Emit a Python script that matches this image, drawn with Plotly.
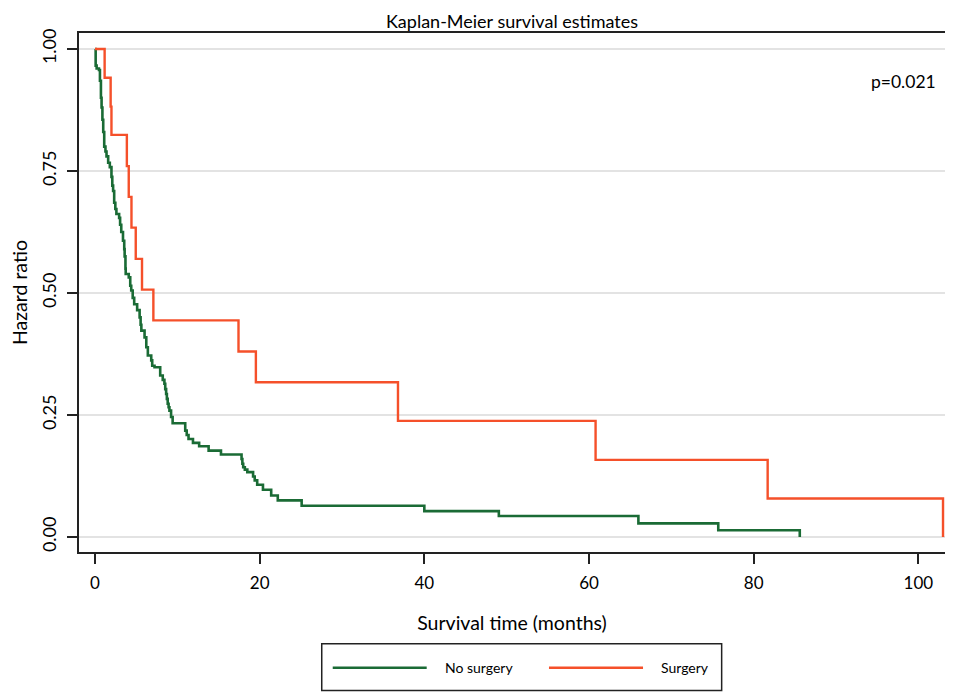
import plotly.graph_objects as go

# ---- data ----
no_surgery_time = [0, 0.08, 0.2, 0.48, 0.6, 0.72, 0.8, 0.9, 1.0, 1.12, 1.27, 1.4, 1.6, 1.8, 2.0, 2.1,
                   2.2, 2.33, 2.47, 2.6, 2.93, 3.05, 3.19, 3.4, 3.55, 3.6, 3.7, 3.73, 4.1, 4.28, 4.4,
                   4.58, 4.76, 5.12, 5.42, 5.54, 5.63, 6.02, 6.23, 6.42, 6.83, 6.95, 7.23, 7.92, 8.23,
                   8.43, 8.53, 8.64, 8.73, 8.83, 8.94, 9.04, 9.24, 9.43, 10.96, 11.14, 11.36, 11.9,
                   12.65, 13.8, 15.3, 17.8, 17.9, 18.0, 18.2, 18.5, 19.2, 19.4, 19.7, 20.4, 21.4, 22.2,
                   25.1, 40.0, 49.05, 66.0, 75.7, 85.6]
no_surgery_surv = [1.0, 0.966, 0.96, 0.957, 0.935, 0.90, 0.88, 0.855, 0.83, 0.80, 0.79, 0.78, 0.767,
                   0.758, 0.738, 0.72, 0.709, 0.685, 0.672, 0.662, 0.654, 0.64, 0.625, 0.607, 0.59,
                   0.575, 0.55, 0.539, 0.532, 0.515, 0.505, 0.49, 0.477, 0.465, 0.45, 0.435, 0.423,
                   0.409, 0.389, 0.372, 0.362, 0.351, 0.348, 0.331, 0.322, 0.314, 0.303, 0.293, 0.283,
                   0.273, 0.266, 0.259, 0.246, 0.233, 0.218, 0.209, 0.201, 0.193, 0.186, 0.177, 0.169,
                   0.160, 0.150, 0.143, 0.138, 0.133, 0.124, 0.116, 0.107, 0.097, 0.085, 0.075, 0.064,
                   0.053, 0.043, 0.028, 0.014, 0.0]

surgery_time = [0, 1.17, 1.9, 2.0, 3.87, 4.1, 4.43, 4.95, 5.71, 7.09, 17.43, 19.54, 36.8, 60.8, 81.7, 103.0]
surgery_surv = [1.0, 0.941, 0.882, 0.824, 0.760, 0.697, 0.634, 0.570, 0.507, 0.444, 0.380, 0.317,
                0.238, 0.158, 0.079, 0.0]

x_ticks = [0, 20, 40, 60, 80, 100]
y_ticks = [0, 0.25, 0.5, 0.75, 1.0]
y_tick_labels = ["0.00", "0.25", "0.50", "0.75", "1.00"]
series_names = ["No surgery", "Surgery"]
p_value_text = "p=0.021"

GREEN = "#1a6b35"
RED = "#f5502a"
FONT = "Lato"

# visible page area is offset by the 8px body margin
W, H = 937, 684

fig = go.Figure()
fig.add_trace(go.Scatter(x=no_surgery_time, y=no_surgery_surv, mode="lines", name=series_names[0],
                         line=dict(color=GREEN, width=2.6, shape="hv"), showlegend=False))
fig.add_trace(go.Scatter(x=surgery_time, y=surgery_surv, mode="lines", name=series_names[1],
                         line=dict(color=RED, width=2.4, shape="hv"), showlegend=False))

fig.update_layout(
    width=W, height=H,
    margin=dict(l=71, r=0, t=25, b=140),
    paper_bgcolor="white", plot_bgcolor="white",
    font=dict(family=FONT, size=16, color="black"),
    title=dict(text="Kaplan-Meier survival estimates", x=0.5, xref="paper", xanchor="center",
               y=1 - 7 / H, yref="container", yanchor="top",
               font=dict(family=FONT, size=18, color="black")),
    xaxis=dict(range=[-1.943, 103.24], tickvals=x_ticks, ticks="outside", ticklen=10, tickwidth=1.5,
               tickcolor="#222", showgrid=False, zeroline=False, showline=True, linecolor="#222",
               linewidth=1.5, mirror=True, ticklabelstandoff=5,
               title=dict(text="Survival time (months)", standoff=24, font=dict(size=19.5)),
               tickfont=dict(size=17)),
    yaxis=dict(range=[-0.0307, 1.0328], tickvals=y_ticks, ticktext=y_tick_labels, ticks="outside",
               ticklen=10, tickwidth=1.5, tickcolor="#222", tickangle=-90, ticklabelstandoff=4,
               showgrid=True, gridcolor="#e3e3e3", gridwidth=2, zeroline=False,
               showline=True, linecolor="#222", linewidth=1.5,
               title=dict(text="Hazard ratio", standoff=6, font=dict(size=19.5)),
               tickfont=dict(size=18)),
)

fig.add_annotation(text=p_value_text, xref="paper", yref="paper", x=0.992, y=0.907,
                   xanchor="right", yanchor="middle", showarrow=False,
                   font=dict(family=FONT, size=17.5, color="black"))

# legend box drawn below the plot
fig.add_shape(type="rect", xref="paper", yref="paper", x0=0.2803, x1=0.7421, y0=-0.267, y1=-0.177,
              line=dict(color="#222", width=1.5), fillcolor="white")
fig.add_shape(type="line", xref="paper", yref="paper", x0=0.2930, x1=0.4015, y0=-0.223, y1=-0.223,
              line=dict(color=GREEN, width=2.6))
fig.add_shape(type="line", xref="paper", yref="paper", x0=0.5427, x1=0.6513, y0=-0.223, y1=-0.223,
              line=dict(color=RED, width=2.4))
fig.add_annotation(text=series_names[0], xref="paper", yref="paper", x=0.4200, y=-0.223,
                   xanchor="left", yanchor="middle", showarrow=False, font=dict(size=14))
fig.add_annotation(text=series_names[1], xref="paper", yref="paper", x=0.6697, y=-0.223,
                   xanchor="left", yanchor="middle", showarrow=False, font=dict(size=14))

fig.write_html("out.html")
